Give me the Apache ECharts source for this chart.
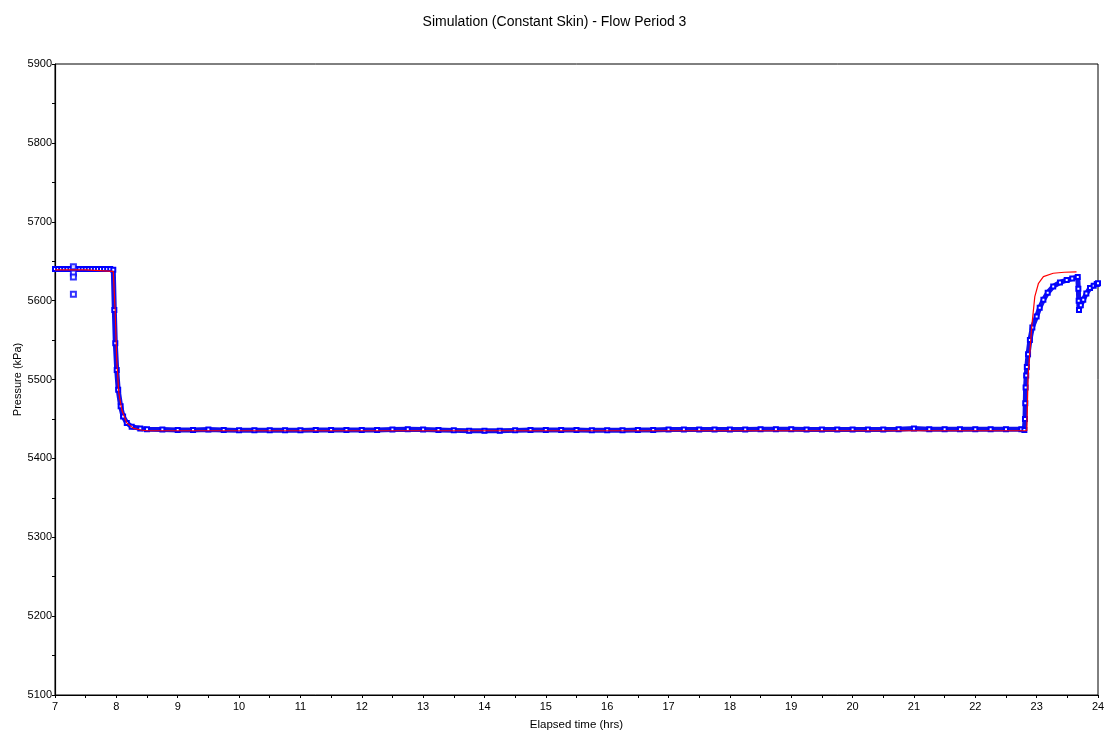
<!DOCTYPE html>
<html>
<head>
<meta charset="utf-8">
<script src="https://cdn.jsdelivr.net/npm/echarts@6/dist/echarts.min.js"></script>
<style>html,body{margin:0;padding:0;background:#fff;}#c{width:1109px;height:735px;}</style>
</head>
<body>
<div id="c"></div>
<script>
const titleText = "Simulation (Constant Skin) - Flow Period 3";
const xName = "Elapsed time (hrs)";
const yName = "Pressure (kPa)";

// Measured (blue squares), main trace
const blueT = [7.00,7.05,7.10,7.15,7.20,7.25,7.30,7.35,7.40,7.45,7.50,7.55,7.60,7.65,7.70,7.75,7.80,7.85,7.90,7.95,
  7.967,7.983,8.006,8.03,8.07,8.11,8.17,8.25,8.39,
  8.50,8.75,9.00,9.25,9.50,9.75,10.00,10.25,10.50,10.75,11.00,11.25,11.50,11.75,12.00,12.25,12.50,12.75,13.00,13.25,13.50,13.75,
  14.00,14.25,14.50,14.75,15.00,15.25,15.50,15.75,16.00,16.25,16.50,16.75,17.00,17.25,17.50,17.75,18.00,18.25,18.50,18.75,
  19.00,19.25,19.50,19.75,20.00,20.25,20.50,20.75,21.00,21.25,21.50,21.75,22.00,22.25,22.50,22.75,22.80,
  22.81,22.815,22.82,22.83,22.84,22.86,22.89,22.93,23.00,23.05,23.11,23.18,23.27,23.38,23.49,23.58,23.67,
  23.68,23.685,23.69,23.72,23.76,23.81,23.87,23.93,23.98,24.00];
const blueP = [5640,5640,5640,5640,5640,5640,5641,5640,5640,5640,5640,5640,5640,5640,5640,5640,5640,5640,5640,5639,
  5588,5546,5512,5487,5466,5453,5445,5440,5438,
  5437,5436.5,5436,5436,5436.5,5436,5435.5,5435.5,5435.5,5435.5,5435.5,5436,5436,5436,5436,5436,5436.5,5437,5436.5,5436,5435.5,5435,
  5435,5435,5435.5,5436,5436,5436,5436,5435.5,5435.5,5435.5,5436,5436,5436.5,5436.5,5436.5,5436.5,5436.5,5436.5,5437,5437,
  5437,5436.5,5436.5,5436.5,5436.5,5436.5,5436.5,5437,5438,5437,5437,5437,5437,5437,5437,5437,5436,
  5450,5470,5490,5505,5516,5532,5550,5566,5580,5591,5601,5610,5618,5623,5626,5628,5630,
  5615,5600,5588,5594,5601,5609,5616,5619,5621,5622];
// Measured outliers near 7.3 hrs
const outlierT = [7.30,7.30,7.30,7.30];
const outlierP = [5643,5635,5630,5608];

// Simulated (red line)
const redT = [7.00,7.50,7.95,7.98,8.006,8.04,8.09,8.17,8.28,8.40,8.50,10.00,12.00,14.00,16.00,18.00,20.00,22.00,22.84,
  22.86,22.92,22.97,23.03,23.11,23.27,23.45,23.65];
const redP = [5639,5639,5637,5588,5525,5483,5461,5445,5438,5436,5435,5435,5435,5435,5435,5435,5435,5435,5435,
  5503.7,5567,5605,5622,5630.4,5634.7,5636,5636.4];

const xTicks = {min: 7, max: 24, interval: 1};
const yTicks = {min: 5100, max: 5900, interval: 100};

const blueData = blueT.map((t, i) => [t, blueP[i]]);
const outlierData = outlierT.map((t, i) => [t, outlierP[i]]);
const redData = redT.map((t, i) => [t, redP[i]]);

const font = "'Liberation Sans', Arial, sans-serif";
const chart = echarts.init(document.getElementById('c'));
chart.setOption({
  animation: false,
  backgroundColor: '#fff',
  title: {text: titleText, left: 'center', top: 10,
    textStyle: {fontFamily: font, fontSize: 14, fontWeight: 'normal', color: '#000'}},
  grid: {left: 55, right: 11, top: 64, bottom: 40, containLabel: false, outerBoundsMode: 'none',
    show: true, borderColor: '#000', borderWidth: 1, backgroundColor: 'transparent'},
  xAxis: {type: 'value', min: xTicks.min, max: xTicks.max, interval: xTicks.interval,
    name: xName, nameLocation: 'middle', nameGap: 24, nameMoveOverlap: false,
    nameTextStyle: {fontFamily: font, fontSize: 11.5, color: '#000'},
    axisLine: {lineStyle: {color: '#000', width: 1.2}},
    axisTick: {show: true, length: 3, lineStyle: {color: '#000'}},
    minorTick: {show: true, splitNumber: 2, length: 3, lineStyle: {color: '#000'}},
    splitLine: {show: false},
    axisLabel: {fontFamily: font, fontSize: 11, color: '#000', margin: 6, formatter: v => String(v)}},
  yAxis: {type: 'value', min: yTicks.min, max: yTicks.max, interval: yTicks.interval,
    name: yName, nameLocation: 'middle', nameGap: 32, nameRotate: 90, nameMoveOverlap: false,
    nameTextStyle: {fontFamily: font, fontSize: 11, color: '#000'},
    axisLine: {show: true, lineStyle: {color: '#000', width: 1.2}},
    axisTick: {show: true, length: 3, lineStyle: {color: '#000'}},
    minorTick: {show: true, splitNumber: 2, length: 3, lineStyle: {color: '#000'}},
    splitLine: {show: false},
    axisLabel: {fontFamily: font, fontSize: 11, color: '#000', margin: 3, formatter: v => String(v)}},
  series: [
    {type: 'line', data: blueData, symbol: 'emptyRect', symbolSize: 4, showAllSymbol: true,
     lineStyle: {color: '#1010ee', width: 5}, itemStyle: {color: '#0000ff', borderColor: '#0000ff', borderWidth: 1},
     z: 2},
    {type: 'scatter', data: outlierData, symbol: 'emptyRect', symbolSize: 5,
     itemStyle: {color: '#0000ff', borderColor: '#0000ff', borderWidth: 1}, z: 2},
    {type: 'line', data: redData, symbol: 'none', lineStyle: {color: '#ff0000', width: 1.2}, z: 3}
  ]
});
</script>
</body>
</html>
